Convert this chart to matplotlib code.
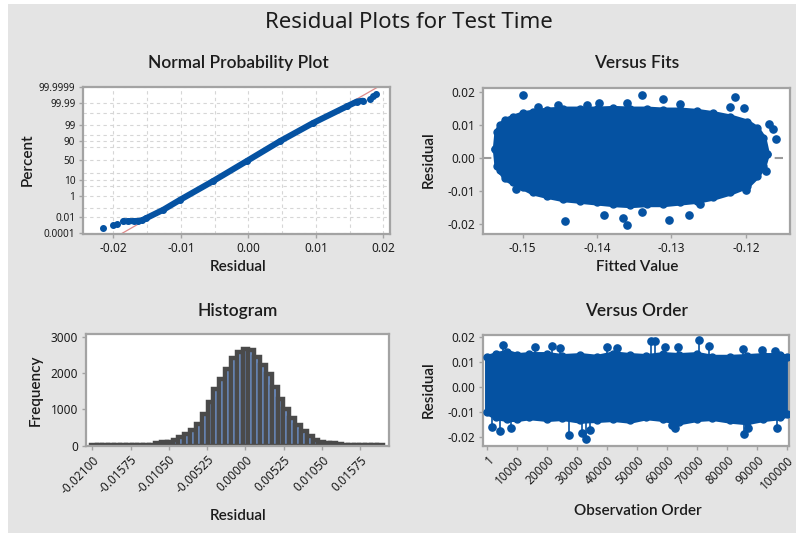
import numpy as np
import matplotlib
matplotlib.use("Agg")
import matplotlib.pyplot as plt
from matplotlib.patches import Rectangle
from matplotlib.ticker import NullFormatter
from math import erfc, sqrt

plt.rcParams['font.family'] = ['Noto Sans', 'DejaVu Sans']

# ---------------- datos ----------------
# Normal Probability Plot (residuo, porcentaje)
npp_resid = [-0.0215, -0.0200, -0.0195, -0.0185, -0.0178, -0.0170, -0.0163, -0.0158, -0.0151,
             -0.0126, -0.0101, -0.0052, -0.0002, 0.0047, 0.0096, 0.0146, 0.0161, 0.0170,
             0.0180, 0.0185, 0.0189]
npp_pct = [0.00052, 0.0012, 0.0017, 0.0036, 0.0037, 0.0038, 0.0040, 0.0045, 0.0085,
           0.064, 0.51, 8.9, 48.4, 89.4, 99.25, 99.978, 99.9936, 99.9948,
           99.9966, 99.99867, 99.99915]
npp_body = slice(3, 18)
fit_resid = [-0.0187, 0.0191]
fit_pct = [0.0001, 99.9999]
npp_ticks = [0.0001, 0.01, 1, 10, 50, 90, 99, 99.99, 99.9999]
npp_tick_labels = ['0.0001', '0.01', '1', '10', '50', '90', '99', '99.99', '99.9999']
npp_grid_pct = [0.1, 5, 20, 80, 95, 99.9]

# Versus Fits: contorno de la nube y puntos aislados
vf_env_fit = [-0.15372, -0.1535, -0.15305, -0.15238, -0.15126, -0.14992, -0.14858, -0.14677,
              -0.14454, -0.1423, -0.14005, -0.13782, -0.13558, -0.13333, -0.1311, -0.12886,
              -0.12661, -0.12438, -0.12214, -0.11989, -0.11855, -0.11766, -0.1172]
vf_env_high = [0.0027, 0.0079, 0.0099, 0.0114, 0.0124, 0.0134, 0.0139, 0.0145, 0.0148, 0.0148,
               0.0148, 0.0150, 0.0148, 0.0148, 0.0145, 0.0145, 0.0141, 0.0134, 0.0124, 0.0109,
               0.0089, 0.0059, 0.0012]
vf_env_low = [0.0027, -0.0024, -0.0037, -0.0062, -0.0075, -0.0090, -0.0105, -0.0115, -0.0125,
              -0.0130, -0.0135, -0.0140, -0.0143, -0.0140, -0.0140, -0.0135, -0.0130, -0.0120,
              -0.0105, -0.0085, -0.0055, -0.0024, 0.0012]
vf_out_fit = [-0.1500, -0.1479, -0.1453, -0.1413, -0.1398, -0.1360, -0.1339, -0.1312, -0.1289,
              -0.1221, -0.1214, -0.1203, -0.1169, -0.1163, -0.1160, -0.1173, -0.1200, -0.1443,
              -0.1391, -0.1360, -0.1365, -0.1304, -0.1277, -0.1339, -0.1509, -0.1528, -0.1262]
vf_out_res = [0.0189, 0.0154, 0.0161, 0.0161, 0.0167, 0.0167, 0.0189, 0.0177, 0.0162,
              0.0154, 0.0184, 0.0151, 0.0103, 0.0086, 0.0058, -0.0041, -0.0099, -0.0193,
              -0.0173, -0.0205, -0.0183, -0.0188, -0.0173, -0.0165, -0.0094, -0.0041, -0.0139]

# Histograma: centros de clase y frecuencias
hist_centers = [round(-0.0208 + 0.0008 * k, 4) for k in range(50)]
hist_counts = [15, 15, 15, 15, 15, 15, 15, 15, 15, 15,
               25, 80, 90, 105, 155, 230, 310, 420, 600, 860,
               1200, 1560, 1840, 2110, 2400, 2570, 2650, 2630, 2440, 2230,
               1960, 1620, 1290, 1000, 750, 560, 400, 270, 170, 110,
               75, 62, 50, 30, 15, 15, 15, 15, 15, 15]
hist_ticks = [-0.021, -0.01575, -0.0105, -0.00525, 0.0, 0.00525, 0.0105, 0.01575]
hist_tick_labels = ['-0.02100', '-0.01575', '-0.01050', '-0.00525', '0.00000',
                    '0.00525', '0.01050', '0.01575']

# Versus Order: banda principal y picos
vo_env_order = [1, 3000, 6500, 10000, 14000, 20000, 25000, 31000, 36500, 42000, 47500,
                53000, 58500, 64000, 70000, 75000, 81000, 86500, 92000, 97500, 100000]
vo_env_high = [0.0121, 0.0132, 0.0141, 0.0128, 0.0132, 0.0132, 0.0124, 0.0128, 0.0121, 0.0135,
               0.0128, 0.0124, 0.0132, 0.0128, 0.0132, 0.0121, 0.0121, 0.0124, 0.0128, 0.0128, 0.0121]
vo_env_low = [-0.0101, -0.0121, -0.0128, -0.0128, -0.0121, -0.0128, -0.0124, -0.0135, -0.0132,
              -0.0128, -0.0135, -0.0121, -0.0128, -0.0141, -0.0128, -0.0124, -0.0135, -0.0141,
              -0.0128, -0.0121, -0.0108]
vo_spk_order = [5300, 15900, 21500, 24200, 39800, 43100, 54600, 55900, 59200, 63700, 70700,
                74000, 85300, 91500, 95900, 1500, 4200, 7800, 27300, 31500, 32900, 34200,
                61500, 62600, 85600, 87000, 96500]
vo_spk_res = [0.0171, 0.0163, 0.0167, 0.0158, 0.0160, 0.0158, 0.0184, 0.0184, 0.0163, 0.0160,
              0.0190, 0.0167, 0.0153, 0.0150, 0.0145, -0.0160, -0.0176, -0.0167, -0.0193,
              -0.0184, -0.0210, -0.0173, -0.0153, -0.0164, -0.0189, -0.0167, -0.0167]
vo_ticks = [1, 10000, 20000, 30000, 40000, 50000, 60000, 70000, 80000, 90000, 100000]

# ---------------- estilo ----------------
W, H = 796, 533
AZUL = '#0552a2'
GRIS_FONDO = '#e4e4e4'
MARCO = '#a3a3a3'
TEXTO = '#1c1c1c'
FUENTE_NEGRITA = ['Lato', 'Liberation Sans', 'DejaVu Sans']

# escala de probabilidad normal (percent -> z)
_z = np.linspace(-9, 9, 6001)
_erfc = np.vectorize(erfc)
_logit = np.log(0.5 * _erfc(-_z / sqrt(2))) - np.log(0.5 * _erfc(_z / sqrt(2)))


def pct_a_z(p):
    p = np.clip(np.asarray(p, dtype=float), 1e-12, 100 - 1e-12)
    return np.interp(np.log(p) - np.log(100 - p), _logit, _z)


def z_a_pct(z):
    return 50 * _erfc(-np.asarray(z, dtype=float) / sqrt(2))


def agregar_ejes(l, t, r, b):
    ax = fig.add_axes([l / W, 1 - b / H, (r - l) / W, (b - t) / H])
    for s in ax.spines.values():
        s.set_color(MARCO)
        s.set_linewidth(1.6)
    ax.tick_params(direction='out', length=3, width=1, color=MARCO,
                   labelcolor=TEXTO, labelsize=8.5, pad=2.5)
    return ax


def texto(px, py, s, **kw):
    fig.text(px / W, 1 - py / H, s, ha='center', va='center', color=TEXTO, **kw)


def titulo(px, py, s):
    texto(px, py, s, fontsize=12.5, fontweight='semibold', family=FUENTE_NEGRITA)


def etiqueta(px, py, s, rot=0):
    texto(px, py, s, fontsize=11, fontweight='semibold', family=FUENTE_NEGRITA, rotation=rot)


fig = plt.figure(figsize=(W / 100, H / 100), dpi=100)
fig.patch.set_facecolor('white')
fig.add_artist(Rectangle((8 / W, 0), 1 - 8 / W, 1 - 4 / H, transform=fig.transFigure,
                         facecolor=GRIS_FONDO, edgecolor='none', zorder=-10))

texto(409, 22, 'Residual Plots for Test Time', fontsize=16)

# ---- Normal Probability Plot ----
ax1 = agregar_ejes(83, 86.7, 390, 234)
ax1.set_yscale('function', functions=(pct_a_z, z_a_pct))
ax1.set_xlim(-0.0245, 0.0210)
ax1.set_ylim(0.00008, 99.99992)
ax1.set_yticks(npp_ticks)
ax1.set_yticklabels(npp_tick_labels)
ax1.set_yticks(npp_grid_pct, minor=True)
ax1.yaxis.set_minor_formatter(NullFormatter())
ax1.set_xticks([-0.02, -0.01, 0.0, 0.01, 0.02])
ax1.set_xticklabels(['-0.02', '-0.01', '0.00', '0.01', '0.02'])
ax1.set_xticks([-0.015, -0.005, 0.005, 0.015], minor=True)
ax1.tick_params(axis='y', labelsize=7.2)
ax1.tick_params(which='minor', length=0)
ax1.grid(True, which='both', ls=(0, (3, 3)), color='#d6d6d6', lw=0.8)
ax1.set_axisbelow(True)
ax1.plot(fit_resid, fit_pct, color='#e08a8a', lw=0.9, zorder=2)
ax1.plot(npp_resid[npp_body], npp_pct[npp_body], color=AZUL, lw=4.4,
         solid_capstyle='round', solid_joinstyle='round', zorder=3)
ax1.plot(npp_resid, npp_pct, 'o', color=AZUL, ms=4, zorder=4)
titulo(238, 63, 'Normal Probability Plot')
etiqueta(238, 267, 'Residual')
etiqueta(28, 160, 'Percent', 90)

# ---- Versus Fits ----
ax2 = agregar_ejes(482.7, 87.7, 790, 234.3)
ax2.set_xlim(-0.15538, -0.11407)
ax2.set_ylim(-0.0232, 0.0212)
ax2.set_xticks([-0.15, -0.14, -0.13, -0.12])
ax2.set_xticklabels(['-0.15', '-0.14', '-0.13', '-0.12'])
ax2.set_yticks([-0.02, -0.01, 0.0, 0.01, 0.02])
ax2.set_yticklabels(['-0.02', '-0.01', '0.00', '0.01', '0.02'])
ax2.axhline(0, color='#9a9a9a', lw=1.5, ls=(0, (4, 3)), zorder=1)
ax2.fill_between(vf_env_fit, vf_env_low, vf_env_high, facecolor=AZUL, edgecolor=AZUL,
                 lw=4, joinstyle='round', zorder=2)
ax2.plot(vf_env_fit, vf_env_high, 'o', color=AZUL, ms=5, zorder=3)
ax2.plot(vf_env_fit, vf_env_low, 'o', color=AZUL, ms=5, zorder=3)
ax2.plot(vf_out_fit, vf_out_res, 'o', color=AZUL, ms=5.2, zorder=3)
titulo(637, 63, 'Versus Fits')
etiqueta(637, 267, 'Fitted Value')
etiqueta(429, 160, 'Residual', 90)

# ---- Histogram ----
ax3 = agregar_ejes(86, 334.3, 389.3, 445.7)
ax3.bar(hist_centers, hist_counts, width=0.0008, color='#6e92cb', edgecolor='#4a4a4a',
        linewidth=3.2, zorder=2)
ax3.set_xlim(-0.02185, 0.01970)
ax3.set_ylim(0, 3066)
ax3.set_yticks([0, 1000, 2000, 3000])
ax3.set_xticks(hist_ticks)
ax3.set_xticklabels(hist_tick_labels, rotation=45, ha='right', rotation_mode='anchor')
titulo(238, 311, 'Histogram')
etiqueta(238, 516, 'Residual')
etiqueta(36, 390, 'Frequency', 90)

# ---- Versus Order ----
ax4 = agregar_ejes(482.7, 335, 789.3, 446)
ax4.set_xlim(-1533, 100667)
ax4.set_ylim(-0.0238, 0.0210)
ax4.set_yticks([-0.02, -0.01, 0.0, 0.01, 0.02])
ax4.set_yticklabels(['-0.02', '-0.01', '0.00', '0.01', '0.02'])
ax4.set_xticks(vo_ticks)
ax4.set_xticklabels([str(v) for v in vo_ticks], rotation=45, ha='right',
                    rotation_mode='anchor')
ax4.vlines(vo_spk_order, 0, vo_spk_res, color=AZUL, lw=1.2, zorder=2)
ax4.fill_between(vo_env_order, vo_env_low, vo_env_high, facecolor=AZUL, edgecolor=AZUL,
                 lw=4, zorder=2)
ax4.plot(vo_env_order, vo_env_high, 'o', color=AZUL, ms=5, zorder=3)
ax4.plot(vo_env_order, vo_env_low, 'o', color=AZUL, ms=5, zorder=3)
ax4.plot(vo_spk_order, vo_spk_res, 'o', color=AZUL, ms=5.2, zorder=3)
titulo(637, 311, 'Versus Order')
etiqueta(638, 511, 'Observation Order')
etiqueta(429, 390, 'Residual', 90)

fig.savefig('out.png', dpi=100, facecolor=fig.get_facecolor())
